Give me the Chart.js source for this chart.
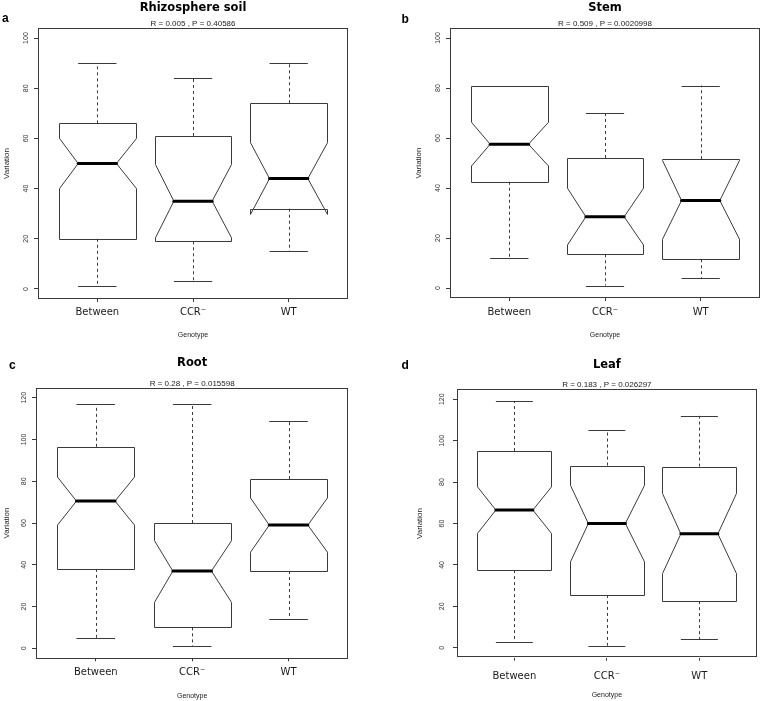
<!DOCTYPE html>
<html>
<head>
<meta charset="utf-8">
<script src="https://cdn.jsdelivr.net/npm/chart.js@4"></script>
<style>
  body { margin: 0; background: #fff; }
  #wrap { position: relative; width: 760px; height: 701px; }
  #wrap canvas { position: absolute; }
</style>
</head>
<body>
<div id="wrap">
  <canvas id="chartA" width="380" height="340" style="left:0;top:0"></canvas>
  <canvas id="chartB" width="380" height="340" style="left:380px;top:0"></canvas>
  <canvas id="chartC" width="380" height="361" style="left:0;top:340px"></canvas>
  <canvas id="chartD" width="380" height="361" style="left:380px;top:340px"></canvas>
</div>
<script>
const categories = ["Between", "CCR\u207B", "WT"];
const ticks100 = [0, 20, 40, 60, 80, 100];
const ticks120 = [0, 20, 40, 60, 80, 100, 120];

// a - Rhizosphere soil
const rhizoMin = [1, 3, 15];
const rhizoQ1 = [20, 19, 32];
const rhizoMed = [50, 35, 44];
const rhizoQ3 = [66, 61, 74];
const rhizoMax = [90, 84, 90];
const rhizoNotchLo = [40, 20.4, 29.7];
const rhizoNotchHi = [60, 49.6, 58.3];

// b - Stem
const stemMin = [12, 1, 4];
const stemQ1 = [42.5, 13.5, 11.5];
const stemMed = [57.5, 28.5, 35];
const stemQ3 = [81, 52, 51.5];
const stemMax = [81, 70, 81];
const stemNotchLo = [48.8, 17.2, 19.5];
const stemNotchHi = [66.3, 39.9, 51];

// c - Root
const rootMin = [5, 1, 14];
const rootQ1 = [38, 10, 37];
const rootMed = [70.5, 37, 59];
const rootQ3 = [96.5, 60, 81];
const rootMax = [117, 117, 109];
const rootNotchLo = [59, 22, 46];
const rootNotchHi = [82, 51.5, 72];

// d - Leaf
const leafMin = [3, 1, 4];
const leafQ1 = [37.5, 25.5, 22.5];
const leafMed = [66.5, 60, 55];
const leafQ3 = [95, 88, 87.5];
const leafMax = [119, 105, 112];
const leafNotchLo = [55.2, 41.5, 35.8];
const leafNotchHi = [77.7, 78.4, 74.5];

const stroke = "#3a3a3a";

// draws notched boxes (R boxplot style) through the chart's own scales
function notchPlugin(st, letter, lx, ly) {
  return {
    id: "notch",
    afterDatasetsDraw(chart) {
      const { ctx, chartArea: a, scales: { x, y } } = chart;
      const px = v => x.getPixelForValue(v);
      const py = v => y.getPixelForValue(v);
      const snap = v => Math.round(v) + 0.5;
      ctx.save();
      ctx.strokeStyle = stroke;
      ctx.lineWidth = 1;
      st.med.forEach((m, i) => {
        const c = i + 1;
        const xc = snap(px(c));
        // whiskers
        ctx.setLineDash([3, 3]);
        ctx.beginPath();
        ctx.moveTo(xc, py(st.q3[i])); ctx.lineTo(xc, py(st.max[i]));
        ctx.moveTo(xc, py(st.q1[i])); ctx.lineTo(xc, py(st.min[i]));
        ctx.stroke();
        ctx.setLineDash([]);
        // staples
        ctx.beginPath();
        ctx.moveTo(px(c - 0.2), snap(py(st.max[i]))); ctx.lineTo(px(c + 0.2), snap(py(st.max[i])));
        ctx.moveTo(px(c - 0.2), snap(py(st.min[i]))); ctx.lineTo(px(c + 0.2), snap(py(st.min[i])));
        ctx.stroke();
        // notched box
        const L = snap(px(c - 0.4)), R = snap(px(c + 0.4));
        const nl = px(c - 0.2), nr = px(c + 0.2);
        const q1 = snap(py(st.q1[i])), q3 = snap(py(st.q3[i]));
        const lo = py(st.lo[i]), hi = py(st.hi[i]), md = py(m);
        ctx.beginPath();
        ctx.moveTo(L, q1); ctx.lineTo(R, q1); ctx.lineTo(R, lo); ctx.lineTo(nr, md);
        ctx.lineTo(R, hi); ctx.lineTo(R, q3); ctx.lineTo(L, q3); ctx.lineTo(L, hi);
        ctx.lineTo(nl, md); ctx.lineTo(L, lo); ctx.closePath();
        ctx.stroke();
        // median
        ctx.lineWidth = 3;
        ctx.strokeStyle = "#000";
        ctx.lineCap = "round";
        ctx.beginPath();
        ctx.moveTo(nl, md); ctx.lineTo(nr, md);
        ctx.stroke();
        ctx.lineCap = "butt";
        ctx.lineWidth = 1;
        ctx.strokeStyle = stroke;
      });
      // plot frame
      ctx.strokeRect(Math.round(a.left) + 0.5, Math.round(a.top) + 0.5,
        Math.round(a.width) - 1, Math.round(a.height) - 1);
      // panel letter
      ctx.fillStyle = "#000";
      ctx.font = "bold 12px 'Liberation Sans'";
      ctx.textBaseline = "alphabetic";
      ctx.fillText(letter, lx, ly);
      ctx.restore();
    }
  };
}

function makeChart(id, title, sub, st, yMax, yTicks, lay) {
  const yMin = -0.04 * yMax, yTop = yMax * 1.04;
  new Chart(document.getElementById(id), {
    type: "scatter",
    data: {
      datasets: [{
        data: st.med.map((m, i) => ({ x: i + 1, y: m })),
        pointRadius: 0
      }]
    },
    options: {
      responsive: false,
      animation: false,
      devicePixelRatio: 1,
      layout: { padding: lay.pad },
      plugins: {
        legend: { display: false },
        tooltip: { enabled: false },
        title: {
          display: true, text: title, fullSize: false, color: "#000",
          font: { family: "DejaVu Sans", size: 11.5, weight: "bold", lineHeight: 1.15 },
          padding: lay.titlePad
        },
        subtitle: {
          display: true, text: sub, fullSize: false, color: "#222",
          font: { family: "Liberation Sans", size: 8, lineHeight: 1 },
          padding: lay.subPad
        }
      },
      scales: {
        x: {
          type: "linear", min: 0.38, max: 3.62,
          afterBuildTicks: s => { s.ticks = categories.map((c, i) => ({ value: i + 1 })); },
          afterFit: s => { s.height = lay.xH; },
          grid: { drawOnChartArea: false, drawTicks: true, tickLength: 3, color: stroke },
          border: { display: false },
          ticks: {
            autoSkip: false, maxRotation: 0, padding: lay.xPad, color: "#1a1a1a",
            font: { family: "DejaVu Sans", size: 10 },
            callback: (v, i) => categories[i]
          },
          title: {
            display: true, text: "Genotype", color: "#222", padding: 0,
            font: { family: "Liberation Sans", size: 7 }
          }
        },
        y: {
          min: yMin, max: yTop,
          afterBuildTicks: s => { s.ticks = yTicks.map(v => ({ value: v })); },
          afterFit: s => { s.width = lay.yW; },
          grid: { drawOnChartArea: false, drawTicks: true, tickLength: 4, color: stroke },
          border: { display: false },
          ticks: {
            autoSkip: false, minRotation: 90, maxRotation: 90, crossAlign: "center",
            padding: lay.yPad, color: "#333",
            font: { family: "Liberation Sans", size: 7 }
          },
          title: {
            display: true, text: "Variation", color: "#222", padding: 0,
            font: { family: "Liberation Sans", size: 8 }
          }
        }
      }
    },
    plugins: [notchPlugin(st, lay.letter, lay.lx, lay.ly)]
  });
}

makeChart("chartA", "Rhizosphere soil", "R = 0.005 , P = 0.40586",
  { min: rhizoMin, q1: rhizoQ1, med: rhizoMed, q3: rhizoQ3, max: rhizoMax, lo: rhizoNotchLo, hi: rhizoNotchHi },
  100, ticks100,
  { pad: { left: 2.2, right: 32, top: 0, bottom: 1.2 }, yW: 35.8, yPad: 2.3, xH: 39.8, xPad: 4.4,
    titlePad: { top: 1, bottom: 5.8 }, subPad: { top: 0, bottom: 0 }, letter: "a", lx: 2, ly: 22 });

makeChart("chartB", "Stem", "R = 0.509 , P = 0.0020998",
  { min: stemMin, q1: stemQ1, med: stemMed, q3: stemQ3, max: stemMax, lo: stemNotchLo, hi: stemNotchHi },
  100, ticks100,
  { pad: { left: 34.2, right: 0, top: 0, bottom: 1.2 }, yW: 35.8, yPad: 2.3, xH: 40.8, xPad: 5.4,
    titlePad: { top: 1, bottom: 5.8 }, subPad: { top: 0, bottom: 0 }, letter: "b", lx: 21.5, ly: 23 });

makeChart("chartC", "Root", "R = 0.28 , P = 0.015598",
  { min: rootMin, q1: rootQ1, med: rootMed, q3: rootQ3, max: rootMax, lo: rootNotchLo, hi: rootNotchHi },
  120, ticks120,
  { pad: { left: 2.2, right: 31.7, top: 0, bottom: 1.2 }, yW: 33.8, yPad: 2.3, xH: 41.5, xPad: 5.1,
    titlePad: { top: 16.1, bottom: 10 }, subPad: { top: 0, bottom: 0.4 }, letter: "c", lx: 9, ly: 29 });

makeChart("chartD", "Leaf", "R = 0.183 , P = 0.026297",
  { min: leafMin, q1: leafQ1, med: leafMed, q3: leafQ3, max: leafMax, lo: leafNotchLo, hi: leafNotchHi },
  120, ticks120,
  { pad: { left: 35.2, right: 3.3, top: 0, bottom: 2.2 }, yW: 41.8, yPad: 5.3, xH: 41.1, xPad: 9.4,
    titlePad: { top: 18.4, bottom: 9.4 }, subPad: { top: 0, bottom: 0.3 }, letter: "d", lx: 21.5, ly: 29 });
</script>
</body>
</html>
